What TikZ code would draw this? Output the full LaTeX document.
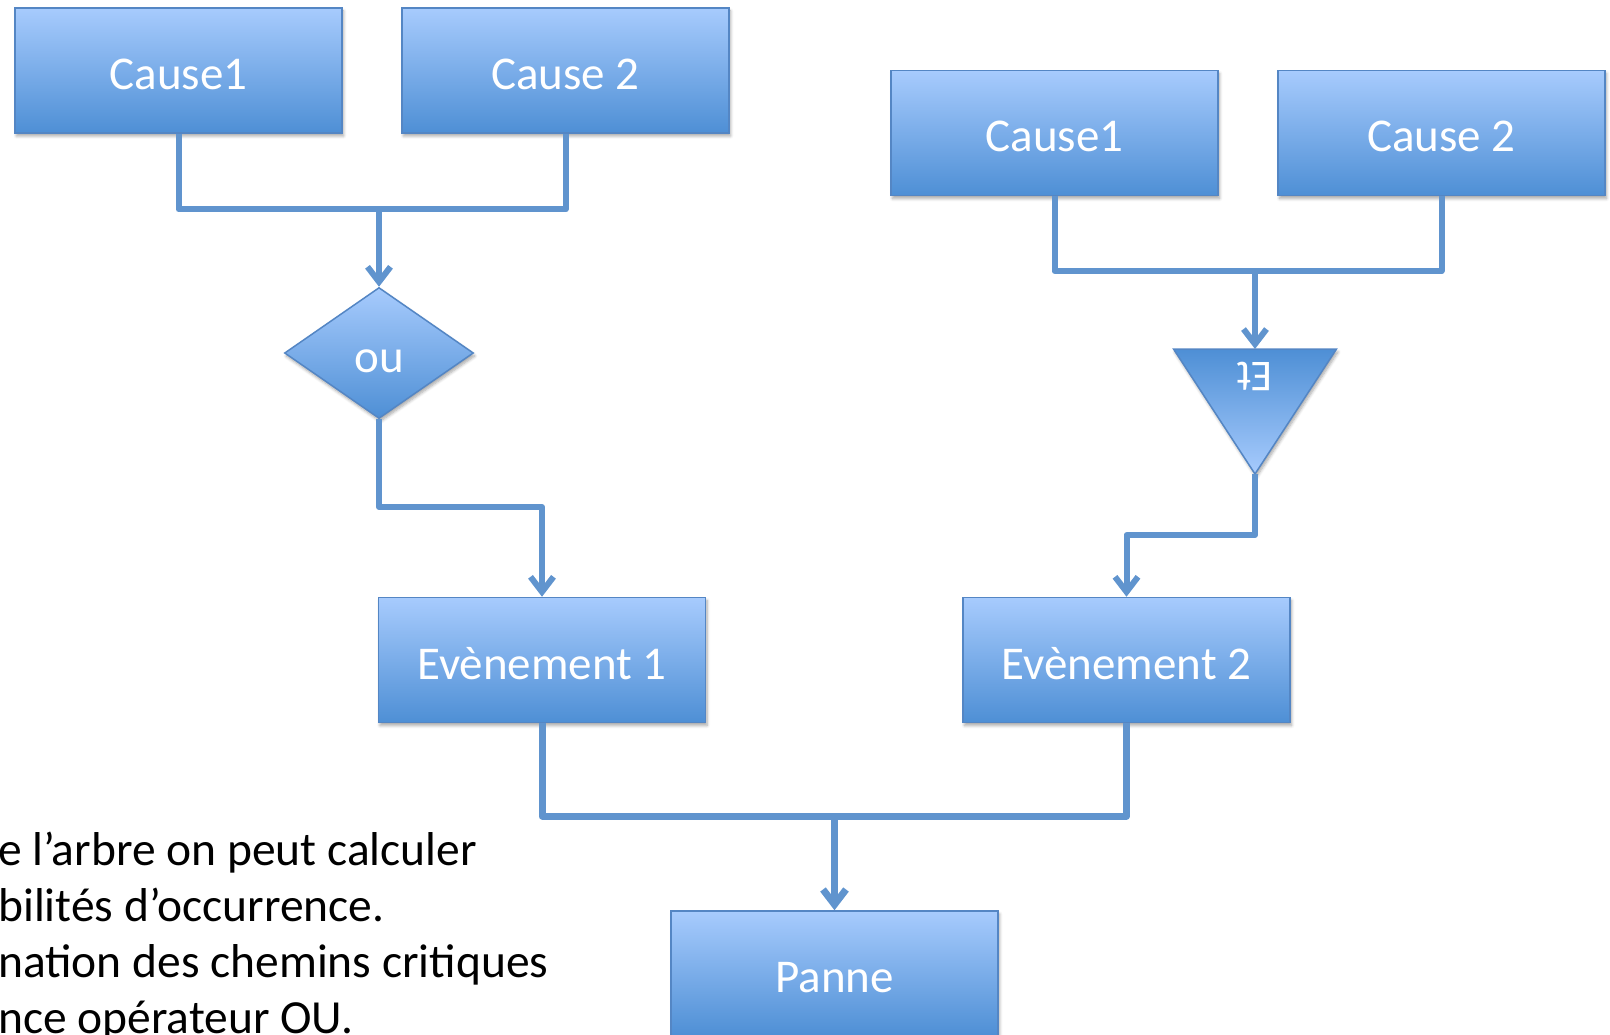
\documentclass[tikz,border=0pt]{standalone}
\usepackage{fontspec}
\setmainfont{Carlito}
\usetikzlibrary{shapes.geometric,arrows.meta,shadows.blur}

\definecolor{boxtop}{RGB}{167,203,253}
\definecolor{boxbot}{RGB}{78,143,213}
\definecolor{boxedge}{RGB}{84,134,196}
\definecolor{wire}{RGB}{96,148,206}

\tikzset{
  shapeshadow/.style={blur shadow={shadow xshift=1.5pt, shadow yshift=-3pt,
      shadow blur steps=6, shadow blur radius=3pt, shadow opacity=35}},
  evbox/.style={rectangle, draw=boxedge, line width=1.5pt,
      top color=boxtop, bottom color=boxbot, shapeshadow,
      minimum width=327pt, minimum height=125pt, inner sep=0pt,
      text=white, font=\fontsize{47}{56}\selectfont,
      text height=38pt, text depth=0pt},
  orgate/.style={diamond, draw=boxedge, line width=1.5pt,
      top color=boxtop, bottom color=boxbot, shapeshadow,
      minimum width=189pt, minimum height=131pt, inner sep=0pt,
      text=white, font=\fontsize{47}{56}\selectfont,
      text height=38pt, text depth=0pt},
  andgate/.style={draw=boxedge, line width=1.5pt,
      top color=boxbot, bottom color=boxtop, shapeshadow},
  wireline/.style={draw=wire, line width=6pt, line join=round},
  thickwire/.style={draw=wire, line width=7pt, line join=round},
  tip/.style={-{Straight Barb[length=15pt, width=23pt]}},
  notetext/.style={anchor=base west, inner sep=0pt,
      font=\fontsize{47.5}{56}\selectfont, text=black}
}

\begin{document}
\begin{tikzpicture}[x=1pt, y=-1pt]
  \useasboundingbox (0,0) rectangle (1610,1035);

  % left branch: OR gate
  \node[evbox] (lc1) at (178.5,70.5) {Cause1};
  \node[evbox] (lc2) at (565.5,70.5) {Cause 2};
  \node[orgate] (or) at (379,353) {ou};

  % right branch: AND gate (drawn upside down)
  \node[evbox] (rc1) at (1054.5,133) {Cause1};
  \node[evbox] (rc2) at (1441.5,133) {Cause 2};
  \coordinate (ettop) at (1255,349);
  \coordinate (etleft) at (1173.5,349);
  \coordinate (etright) at (1336.5,349);
  \coordinate (etapex) at (1255,474);
  \path[andgate] (etleft) -- (etright) -- (etapex) -- cycle;
  \node[rotate=180, text=white, inner sep=0pt,
        font=\fontsize{44}{52}\selectfont] (etlabel) at (1255,376) {Et};

  % intermediate and top events
  \node[evbox] (e1) at (542,660) {Evènement 1};
  \node[evbox] (e2) at (1126.5,660) {Evènement 2};
  \node[evbox] (panne) at (834.5,973.5) {Panne};

  % junction points of the connectors
  \coordinate (ljoin) at (379,209.5);
  \coordinate (lbend) at (542,507);
  \coordinate (rjoin) at (1255,271);
  \coordinate (rbend) at (1126.5,535);
  \coordinate (bjoin) at (834.5,816);

  % connectors
  \path[wireline] (lc1.south) |- (ljoin) -| (lc2.south);
  \path[wireline, tip] (ljoin) -- (or.north);
  \path[wireline, tip] (or.south) |- (lbend) -- (e1.north);

  \path[wireline] (rc1.south) |- (rjoin) -| (rc2.south);
  \path[wireline, tip] (rjoin) -- (ettop);
  \path[wireline, tip] (etapex) |- (rbend) -- (e2.north);

  \path[thickwire] (e1.south) |- (bjoin) -| (e2.south);
  \path[thickwire, tip] (bjoin) -- (panne.north);

  % explanatory text
  \node[notetext] (t1) at (-2,865) {e l’arbre on peut calculer};
  \node[notetext] (t2) at (-2,921) {bilités d’occurrence.};
  \node[notetext] (t3) at (-2,977) {nation des chemins critiques};
  \node[notetext] (t4) at (-2,1033) {nce opérateur OU.};
\end{tikzpicture}
\end{document}
